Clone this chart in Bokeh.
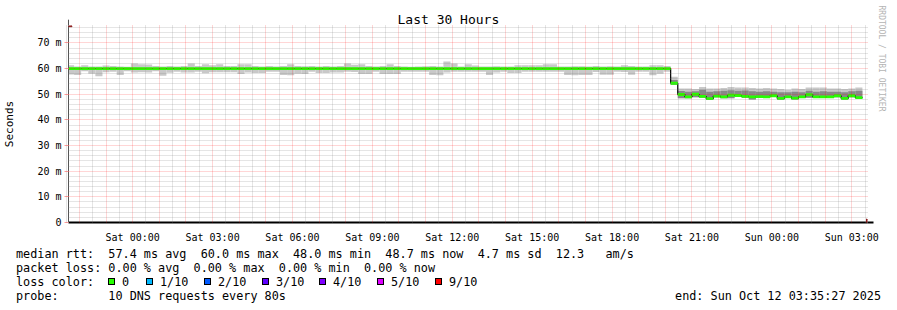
import html
from bokeh.plotting import figure
from bokeh.layouts import column
from bokeh.models import Range1d, FixedTicker, Arrow, NormalHead, ColumnDataSource, Title, Div
from bokeh.embed import file_html
from bokeh.resources import INLINE

# ---------------- data ----------------
# time axis in hours relative to Sat 00:00 ; bins of 16 minutes, first bin starts Fri 21:32
X_START = -2.40917          # Fri 21:35:27
X_END = 27.59083            # Sun 03:35:27
BIN_START_H = -2.46667
BIN_H = 16.0 / 60.0

MEDIAN = [
    60.0, 60.0, 60.0, 60.0, 60.0, 60.0, 60.0, 60.0, 60.0, 60.0,
    60.0, 60.0, 60.0, 60.0, 60.0, 60.0, 60.0, 60.0, 60.0, 60.0,
    60.0, 60.0, 60.0, 60.0, 60.0, 60.0, 60.0, 60.0, 60.0, 60.0,
    60.0, 60.0, 60.0, 60.0, 60.0, 60.0, 60.0, 60.0, 60.0, 60.0,
    60.0, 60.0, 60.0, 60.0, 60.0, 60.0, 60.0, 60.0, 60.0, 60.0,
    60.0, 60.0, 60.0, 60.0, 60.0, 60.0, 60.0, 60.0, 60.0, 60.0,
    60.0, 60.0, 60.0, 60.0, 60.0, 60.0, 60.0, 60.0, 60.0, 60.0,
    60.0, 60.0, 60.0, 60.0, 60.0, 60.0, 60.0, 60.0, 60.0, 60.0,
    60.0, 60.0, 60.0, 60.0, 60.0, 54.3,
    49.9, 49.0, 50.0, 49.2, 48.3, 49.3, 49.0, 49.6, 49.5, 49.2,
    49.0, 49.1, 49.0, 49.4, 48.4, 49.0, 48.5, 49.0, 49.8, 49.0,
    49.0, 49.0, 49.4, 48.4, 49.4, 48.7,
]
SMOKE_HI = [
    61.3, 60.8, 61.3, 60.8, 60.8, 61.2, 61.0, 60.8, 60.7, 62.0,
    61.7, 61.6, 61.0, 60.8, 61.0, 60.8, 61.0, 62.0, 61.0, 61.7,
    61.3, 61.7, 61.0, 61.0, 61.7, 61.7, 61.0, 60.8, 61.0, 60.8,
    61.0, 61.7, 61.0, 60.9, 61.0, 60.8, 61.0, 60.8, 61.0, 62.0,
    61.5, 61.7, 61.0, 60.8, 61.0, 61.7, 61.0, 60.8, 60.7, 60.8,
    60.9, 61.0, 60.8, 62.8, 62.0, 60.8, 61.7, 61.2, 60.8, 60.8,
    60.9, 60.8, 60.8, 61.3, 61.3, 61.3, 61.3, 61.7, 61.7, 60.8,
    60.8, 60.9, 60.9, 60.8, 61.0, 60.8, 60.9, 60.8, 61.3, 61.0,
    60.8, 60.8, 61.3, 61.3, 61.0, 56.8,
    52.2, 52.2, 52.0, 52.8, 52.2, 52.2, 52.4, 52.8, 52.6, 52.6,
    52.4, 52.2, 52.4, 52.2, 52.0, 51.8, 52.2, 52.0, 52.6, 52.6,
    52.6, 52.2, 52.2, 52.0, 52.2, 52.6,
]
SMOKE_LO = [
    57.7, 57.5, 59.0, 58.0, 57.0, 58.6, 58.8, 57.5, 59.0, 58.5,
    58.6, 58.5, 59.0, 57.2, 58.4, 58.8, 58.5, 58.5, 58.8, 58.2,
    58.6, 58.6, 58.6, 58.6, 57.9, 58.5, 58.3, 58.3, 58.8, 58.8,
    57.5, 57.4, 58.0, 57.9, 58.8, 58.3, 58.3, 58.5, 58.5, 58.8,
    58.7, 57.9, 57.9, 58.8, 57.9, 57.9, 57.9, 58.8, 58.8, 58.8,
    58.8, 57.5, 57.4, 58.5, 58.8, 58.8, 58.8, 58.8, 58.8, 57.5,
    58.5, 58.8, 58.3, 58.3, 58.8, 58.8, 58.8, 58.8, 58.8, 58.8,
    57.5, 57.4, 57.5, 57.5, 58.7, 57.6, 57.6, 58.8, 58.7, 57.6,
    58.8, 58.8, 57.4, 58.0, 58.8, 53.7,
    48.4, 48.4, 48.8, 48.6, 47.9, 48.8, 48.4, 48.4, 48.9, 48.6,
    48.0, 48.6, 48.5, 48.9, 47.9, 48.5, 48.0, 48.5, 48.6, 48.5,
    48.5, 48.5, 48.8, 48.0, 48.8, 48.4,
]
DENSE_LO = [
    59.7, 59.7, 59.7, 59.7, 59.7, 59.7, 59.7, 59.7, 59.7, 59.7,
    59.7, 59.7, 59.7, 59.7, 59.7, 59.7, 59.7, 59.7, 59.7, 59.7,
    59.7, 59.7, 59.7, 59.7, 59.7, 59.7, 59.7, 59.7, 59.7, 59.7,
    59.7, 59.7, 59.7, 59.7, 59.7, 59.7, 59.7, 59.7, 59.7, 59.7,
    59.7, 59.7, 59.7, 59.7, 59.7, 59.7, 59.7, 59.7, 59.7, 59.7,
    59.7, 59.7, 59.7, 59.7, 59.7, 59.7, 59.7, 59.7, 59.7, 59.7,
    59.7, 59.7, 59.7, 59.7, 59.7, 59.7, 59.7, 59.7, 59.7, 59.7,
    59.7, 59.7, 59.7, 59.7, 59.7, 59.7, 59.7, 59.7, 59.7, 59.7,
    59.7, 59.7, 59.7, 59.7, 59.7, 53.7,
    48.4, 48.4, 48.8, 48.6, 47.9, 48.8, 48.4, 48.4, 48.9, 48.6,
    48.0, 48.6, 48.5, 48.9, 47.9, 48.5, 48.0, 48.5, 48.6, 48.5,
    48.5, 48.5, 48.8, 48.0, 48.8, 48.4,
]
DENSE_HI = [
    60.3, 60.3, 60.3, 60.3, 60.3, 60.3, 60.3, 60.3, 60.3, 60.3,
    60.3, 60.3, 60.3, 60.3, 60.3, 60.3, 60.3, 60.3, 60.3, 60.3,
    60.3, 60.3, 60.3, 60.3, 60.3, 60.3, 60.3, 60.3, 60.3, 60.3,
    60.3, 60.3, 60.3, 60.3, 60.3, 60.3, 60.3, 60.3, 60.3, 60.3,
    60.3, 60.3, 60.3, 60.3, 60.3, 60.3, 60.3, 60.3, 60.3, 60.3,
    60.3, 60.3, 60.3, 60.3, 60.3, 60.3, 60.3, 60.3, 60.3, 60.3,
    60.3, 60.3, 60.3, 60.3, 60.3, 60.3, 60.3, 60.3, 60.3, 60.3,
    60.3, 60.3, 60.3, 60.3, 60.3, 60.3, 60.3, 60.3, 60.3, 60.3,
    60.3, 60.3, 60.3, 60.3, 60.3, 55.6,
    51.3, 51.0, 51.2, 51.8, 51.0, 51.2, 51.4, 51.6, 51.4, 51.5,
    51.2, 51.0, 51.2, 51.0, 50.8, 50.8, 51.0, 50.8, 51.4, 51.0,
    51.2, 51.0, 51.0, 50.8, 51.2, 51.4,
]

Y_TICKS = [0, 10, 20, 30, 40, 50, 60, 70]
Y_TICK_LABELS = ["0", "10 m", "20 m", "30 m", "40 m", "50 m", "60 m", "70 m"]
X_TICKS = [0, 3, 6, 9, 12, 15, 18, 21, 24, 27]
X_TICK_LABELS = ["Sat 00:00", "Sat 03:00", "Sat 06:00", "Sat 09:00", "Sat 12:00",
                 "Sat 15:00", "Sat 18:00", "Sat 21:00", "Sun 00:00", "Sun 03:00"]

TITLE = "Last 30 Hours"
Y_LABEL = "Seconds"
WATERMARK = "RRDTOOL / TOBI OETIKER"
LINE_RTT = "median rtt:  57.4 ms avg  60.0 ms max  48.0 ms min  48.7 ms now  4.7 ms sd  12.3   am/s"
LINE_LOSS = "packet loss: 0.00 % avg  0.00 % max  0.00 % min  0.00 % now"
LINE_LOSSCOLOR = "loss color:"
LINE_PROBE = "probe:       10 DNS requests every 80s"
LINE_END = "end: Sun Oct 12 03:35:27 2025"
LOSS_LABELS = ["0", "1/10", "2/10", "3/10", "4/10", "5/10", "9/10"]
LOSS_COLORS = ["#26ff00", "#00b8ff", "#0059ff", "#5e00ff", "#7e00ff", "#dd00ff", "#ff0000"]

# ---------------- layout constants ----------------
W = 897
H_MAIN = 245
H_LEG = 65
LEFT, RIGHT, TOP, BOTTOM = 67, 30, 25, 17
FRAME_W = W - LEFT - RIGHT
FRAME_H = H_MAIN - TOP - BOTTOM
Y_TOP = 76.8
MONO = "DejaVu Sans Mono"
PX_PER_H = FRAME_W / (X_END - X_START)
PX_PER_MS = FRAME_H / Y_TOP

n = len(MEDIAN)
left = [BIN_START_H + i * BIN_H for i in range(n)]
right = [l + BIN_H for l in left]
BAND = 0.55
src = ColumnDataSource(dict(
    left=left, right=right, med=MEDIAN, lo=SMOKE_LO, hi=SMOKE_HI,
    dlo=DENSE_LO, dhi=DENSE_HI,
    gb=[m - BAND for m in MEDIAN], gt=[m + BAND for m in MEDIAN],
))

p = figure(width=W, height=H_MAIN, x_range=Range1d(X_START, X_END), y_range=Range1d(0, Y_TOP),
           output_backend="svg", toolbar_location=None,
           min_border_left=LEFT, min_border_right=RIGHT, min_border_top=TOP, min_border_bottom=BOTTOM,
           background_fill_color="white", border_fill_color="white", outline_line_color=None)

p.quad(left="left", right="right", bottom="lo", top="hi", source=src,
       fill_color="#c8c8c8", line_color=None)
p.quad(left="left", right="right", bottom="dlo", top="dhi", source=src,
       fill_color="#888888", line_color=None)
p.step(x=left + [right[-1]], y=MEDIAN + [MEDIAN[-1]], mode="after", line_color="black", line_width=1.2)
p.quad(left="left", right="right", bottom="gb", top="gt", source=src,
       fill_color=LOSS_COLORS[0], line_color=None)

# title / axis label / watermark (layout managed)
p.title = Title(text=TITLE, align="left", offset=329, standoff=-2,
                text_font=MONO, text_font_size="13px", text_font_style="normal", text_color="black")
p.add_layout(Title(text=WATERMARK, align="left", offset=-20, standoff=19,
                   text_font=MONO, text_font_size="8px", text_font_style="normal",
                   text_color="#b4b4b4"), "right")

# axes
p.xaxis.ticker = FixedTicker(ticks=X_TICKS)
p.xaxis.major_label_overrides = {t: s for t, s in zip(X_TICKS, X_TICK_LABELS)}
p.yaxis.ticker = FixedTicker(ticks=Y_TICKS)
p.yaxis.major_label_overrides = {t: s for t, s in zip(Y_TICKS, Y_TICK_LABELS)}
for ax in (p.xaxis, p.yaxis):
    ax.major_label_text_font = MONO
    ax.major_label_text_font_size = "10px"
    ax.major_label_text_color = "black"
    ax.minor_tick_line_color = None
    ax.axis_line_color = "black"
p.xaxis.major_tick_line_color = None
p.xaxis.major_label_standoff = 3
p.xaxis.axis_line_width = 2
p.yaxis.major_tick_out = 4
p.yaxis.major_tick_in = 0
p.yaxis.major_tick_line_color = "#ff9a9a"
p.yaxis.major_label_standoff = 3
p.yaxis.axis_line_color = "#555555"
p.yaxis.axis_label = Y_LABEL
p.yaxis.axis_label_text_font = MONO
p.yaxis.axis_label_text_font_size = "11px"
p.yaxis.axis_label_text_font_style = "normal"
p.yaxis.axis_label_text_color = "black"
p.yaxis.axis_label_standoff = 18

# grids (drawn above data like rrdtool)
hours = list(range(-2, 28))
p.xgrid.ticker = FixedTicker(ticks=hours, minor_ticks=[h + 0.5 for h in range(-3, 28)])
p.ygrid.ticker = FixedTicker(ticks=Y_TICKS, minor_ticks=[v for v in range(2, 77, 2) if v % 10])
for g in (p.xgrid, p.ygrid):
    g.level = "overlay"
    g.grid_line_color = "#ff0000"
    g.grid_line_alpha = 0.32
    g.grid_line_dash = "1 1"
    g.minor_grid_line_color = "#808080"
    g.minor_grid_line_alpha = 0.4
    g.minor_grid_line_dash = "1 1"

# axis arrows
AR = "#8b1a1a"
p.add_layout(Arrow(x_start=X_END, y_start=0, x_end=X_END + 6 / PX_PER_H, y_end=0,
                   line_color="black", line_width=2,
                   end=NormalHead(size=7, fill_color=AR, line_color=AR)))
p.add_layout(Arrow(x_start=X_START, y_start=Y_TOP, x_end=X_START, y_end=Y_TOP + 6 / PX_PER_MS,
                   line_color="#555555", line_width=1,
                   end=NormalHead(size=7, fill_color=AR, line_color=AR)))

# ---------------- legend area (text block under the graph) ----------------
ROW_TOP = [2, 16, 30, 44]
SWATCH_X = [108, 146, 204, 262, 319, 377, 435]

def span(x, top, text):
    return ('<span style="position:absolute;left:%dpx;top:%dpx;white-space:pre;">%s</span>'
            % (x, top, html.escape(text)))

parts = [span(16, ROW_TOP[0], LINE_RTT), span(16, ROW_TOP[1], LINE_LOSS),
         span(16, ROW_TOP[2], LINE_LOSSCOLOR), span(16, ROW_TOP[3], LINE_PROBE)]
for sx, lab, col in zip(SWATCH_X, LOSS_LABELS, LOSS_COLORS):
    parts.append('<span style="position:absolute;left:%dpx;top:%dpx;width:7px;height:7px;'
                 'border:1px solid #000;background:%s;"></span>' % (sx, ROW_TOP[2] + 3, col))
    parts.append(span(sx + 14, ROW_TOP[2], lab))
parts.append('<span style="position:absolute;right:16px;top:%dpx;white-space:pre;">%s</span>'
             % (ROW_TOP[3], html.escape(LINE_END)))

legend_html = ('<div style="position:relative;width:%dpx;height:%dpx;font-family:\'%s\';'
               'font-size:11.8px;line-height:14px;color:#000;background:#fff;">%s</div>'
               % (W, H_LEG, MONO, "".join(parts)))
div = Div(text=legend_html, width=W, height=H_LEG, margin=0)

layout = column(p, div, spacing=0)
open("out.html", "w").write(file_html(layout, INLINE))
